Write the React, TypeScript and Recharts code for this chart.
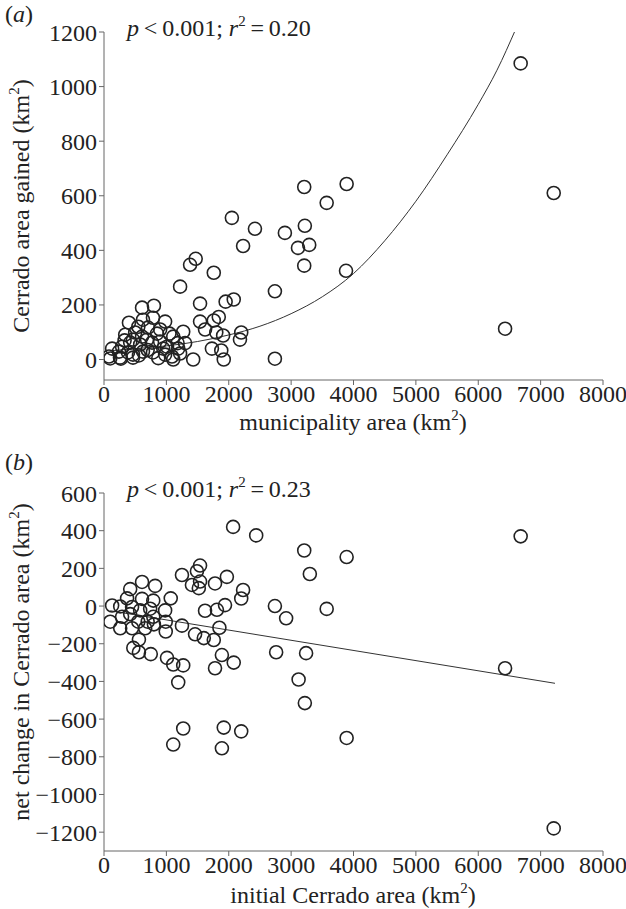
import React from 'react';
import { ComposedChart, Scatter, Line, XAxis, YAxis } from 'recharts';

// (a) municipality area vs Cerrado area gained
const areaA = [
  6680, 7210, 6430, 3210, 3890, 3570, 2050, 2420, 2900, 3220, 2230, 3110, 3290, 3210, 3880, 1760, 2740,
  1470, 1380, 1220, 1540, 1950, 2080, 1540, 1760, 1840, 1620, 1800, 1910, 2200, 2180, 1730, 1880, 1920, 2740,
  610, 800, 400, 625, 785, 980, 705, 340, 500, 610, 850, 690, 1110, 1270, 465, 770, 580, 420, 900, 1010,
  1190, 290, 130, 240, 385, 465, 625, 785, 980, 1090, 1220, 80, 256, 465, 1110, 1430, 100, 270,
  550, 900, 1050, 700, 560, 870, 1300, 950, 330, 1180,
];
const gainedA = [
  1085, 610, 113, 632, 643, 574, 519, 479, 464, 490, 416, 409, 420, 344, 325, 318, 250,
  369, 347, 267, 205, 212, 220, 139, 143, 156, 110, 99, 88, 99, 73, 40, 33, 0, 3,
  190, 197, 135, 146, 153, 139, 117, 91, 99, 84, 95, 73, 84, 102, 73, 62, 55, 62, 66, 47,
  40, 47, 40, 29, 26, 18, 29, 26, 18, 11, 22, 11, 7, 7, 0, 0, 4, 3,
  120, 110, 95, 35, 15, 5, 60, 40, 70, 60,
];
const fitAreaA = [100, 500, 1000, 1500, 2000, 2500, 3000, 3500, 4000, 4500, 5000, 5500, 6000, 6300, 6600];
const fitGainedA = [32, 40, 50, 66, 90, 122, 168, 230, 315, 435, 580, 750, 935, 1060, 1210];

// (b) initial Cerrado area vs net change
const areaB = [
  6680, 7210, 6430, 2070, 2440, 3210, 3890, 3300, 1540, 1540, 1780, 1970, 2230, 2200,
  1620, 1810, 1940, 2740, 2920, 3570, 1850, 1460, 1600, 1760, 2080, 2760, 3240, 3120, 3220,
  1920, 2200, 1890, 3890, 1270, 1110,
  560, 750, 1010, 1110, 1270, 1190, 1780, 1890,
  1250, 1490, 1410, 1520, 610, 820, 420, 1070, 370, 130, 260, 450, 610, 790, 580, 740, 790, 980,
  420, 700, 290, 100, 260, 450, 550, 660, 800, 990, 990, 470, 560, 1250,
];
const changeB = [
  370, -1180, -330, 420, 375, 295, 260, 170, 215, 130, 120, 155, 85, 40,
  -25, -20, 5, 0, -65, -15, -115, -150, -170, -180, -300, -245, -250, -390, -515,
  -645, -665, -755, -700, -650, -735,
  -245, -255, -275, -310, -315, -405, -330, -260,
  165, 185, 112, 95, 128, 107, 90, 41, 41, 3, -2, -5, 38, 29, -23, -14, -57, -23,
  -43, -83, -57, -83, -118, -118, -83, -118, -97, -83, -135, -222, -178, -104,
];
const fitAreaB = [100, 7230];
const fitChangeB = [-25, -410];

const ticksXA = [0, 1000, 2000, 3000, 4000, 5000, 6000, 7000, 8000];
const ticksYA = [0, 200, 400, 600, 800, 1000, 1200];
const ticksYB = [-1200, -1000, -800, -600, -400, -200, 0, 200, 400, 600];

const pointsA = areaA.map((x, i) => ({ x, y: gainedA[i] }));
const curveA = fitAreaA.map((x, i) => ({ x, y: fitGainedA[i] }));
const pointsB = areaB.map((x, i) => ({ x, y: changeB[i] }));
const lineB = fitAreaB.map((x, i) => ({ x, y: fitChangeB[i] }));

const FONT = '"Liberation Serif", "Times New Roman", serif';
const INK = '#222';
const tickStyle = { fontFamily: FONT, fontSize: 24, fill: INK };
const minus = (v: number) => String(v).replace('-', '\u2212');

const OpenCircle = (props: any) => (
  <circle cx={props.cx} cy={props.cy} r={6.5} fill="none" stroke={INK} strokeWidth={1.6} />
);

const Sup = ({ children }: any) => (
  <span style={{ fontSize: 15, position: 'relative', top: -10 }}>{children}</span>
);

const txt = (left: number, top: number, extra: any = {}): React.CSSProperties => ({
  position: 'absolute',
  left,
  top,
  fontFamily: FONT,
  fontSize: 24,
  lineHeight: '24px',
  color: INK,
  whiteSpace: 'nowrap',
  ...extra,
});

const App = () => {
  return (
    <div style={{ position: 'absolute', left: 0, top: 0, width: 626, height: 909, background: '#fff' }}>
      {/* panel a */}
      <div style={{ position: 'absolute', left: 0, top: 0 }}>
        <ComposedChart width={626} height={420} margin={{ top: 32, right: 23, bottom: 0, left: 44 }}>
          <XAxis
            type="number"
            dataKey="x"
            domain={[0, 8000]}
            ticks={ticksXA}
            interval={0}
            height={40}
            tick={tickStyle}
            tickSize={5}
            tickMargin={0}
            stroke="#666"
            allowDataOverflow
          />
          <YAxis
            type="number"
            dataKey="y"
            domain={[-75, 1200]}
            ticks={ticksYA}
            interval={0}
            width={60}
            tick={tickStyle}
            tickSize={5}
            stroke="#666"
            allowDataOverflow
          />
          <Line
            data={curveA}
            dataKey="y"
            type="monotone"
            dot={false}
            stroke="#333"
            strokeWidth={1}
            isAnimationActive={false}
          />
          <Scatter data={pointsA} shape={OpenCircle} isAnimationActive={false} />
        </ComposedChart>
      </div>

      {/* panel b */}
      <div style={{ position: 'absolute', left: 0, top: 430 }}>
        <ComposedChart width={626} height={479} margin={{ top: 63, right: 23, bottom: 18, left: 44 }}>
          <XAxis
            type="number"
            dataKey="x"
            domain={[0, 8000]}
            ticks={ticksXA}
            interval={0}
            height={40}
            tick={tickStyle}
            tickSize={5}
            tickMargin={0}
            stroke="#666"
            allowDataOverflow
          />
          <YAxis
            type="number"
            dataKey="y"
            domain={[-1300, 600]}
            ticks={ticksYB}
            interval={0}
            width={60}
            tick={tickStyle}
            tickSize={5}
            tickFormatter={minus}
            stroke="#666"
            allowDataOverflow
          />
          <Line
            data={lineB}
            dataKey="y"
            type="linear"
            dot={false}
            stroke="#333"
            strokeWidth={1}
            isAnimationActive={false}
          />
          <Scatter data={pointsB} shape={OpenCircle} isAnimationActive={false} />
        </ComposedChart>
      </div>

      {/* labels */}
      <div style={txt(5, 2)}>(<i>a</i>)</div>
      <div style={txt(127, 16)}>
        <i>p</i>{'\u2009<\u20090.001; '}<i>r</i><Sup>2</Sup>{'\u2009=\u20090.20'}
      </div>
      <div style={txt(353, 410, { transform: 'translateX(-50%)' })}>
        municipality area (km<Sup>2</Sup>)
      </div>
      <div style={txt(22, 206, { transform: 'translate(-50%, -50%) rotate(-90deg)' })}>
        Cerrado area gained (km<Sup>2</Sup>)
      </div>

      <div style={txt(5, 450)}>(<i>b</i>)</div>
      <div style={txt(127, 477)}>
        <i>p</i>{'\u2009<\u20090.001; '}<i>r</i><Sup>2</Sup>{'\u2009=\u20090.23'}
      </div>
      <div style={txt(353, 883, { transform: 'translateX(-50%)' })}>
        initial Cerrado area (km<Sup>2</Sup>)
      </div>
      <div style={txt(22, 662, { transform: 'translate(-50%, -50%) rotate(-90deg)' })}>
        net change in Cerrado area (km<Sup>2</Sup>)
      </div>
    </div>
  );
};

export default App;
